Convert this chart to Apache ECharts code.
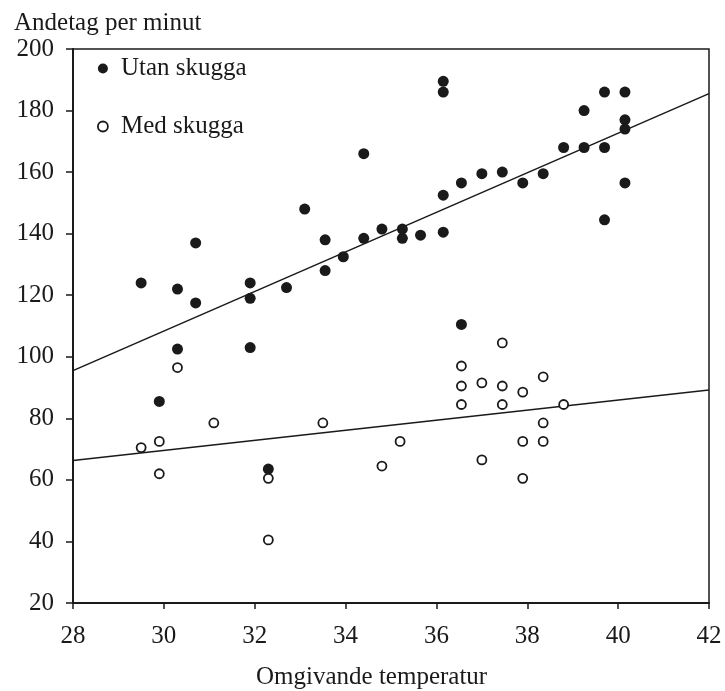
<!DOCTYPE html>
<html>
<head>
<meta charset="utf-8">
<script src="https://cdn.jsdelivr.net/npm/echarts@6/dist/echarts.min.js"></script>
<style>
  html, body { margin: 0; padding: 0; background: #fff; }
  #chart { width: 725px; height: 691px; }
</style>
</head>
<body>
<div id="chart"></div>
<script>
// Breathing rate (breaths per minute) against ambient temperature
const utanTemp = [29.5, 29.9, 30.3, 30.3, 30.7, 30.7, 31.9, 31.9, 31.9, 32.3, 32.7, 33.1, 33.55, 33.55, 33.95,
  34.4, 34.4, 34.8, 35.25, 35.25, 35.65, 36.15, 36.15, 36.15, 36.15, 36.55, 36.55, 37.0, 37.45, 37.9,
  38.35, 38.8, 39.25, 39.25, 39.7, 39.7, 39.7, 40.15, 40.15, 40.15, 40.15];
const utanRate = [124, 85.5, 122, 102.5, 137, 117.5, 124, 119, 103, 63.5, 122.5, 148, 138, 128, 132.5,
  166, 138.5, 141.5, 141.5, 138.5, 139.5, 189.5, 186, 152.5, 140.5, 156.5, 110.5, 159.5, 160, 156.5,
  159.5, 168, 180, 168, 186, 168, 144.5, 186, 177, 174, 156.5];

const medTemp = [29.5, 29.9, 29.9, 30.3, 31.1, 32.3, 32.3, 33.5, 34.8, 35.2, 36.55, 36.55, 36.55, 37.0, 37.0,
  37.45, 37.45, 37.45, 37.9, 37.9, 37.9, 38.35, 38.35, 38.35, 38.8];
const medRate = [70.5, 72.5, 62, 96.5, 78.5, 60.5, 40.5, 78.5, 64.5, 72.5, 97, 90.5, 84.5, 91.5, 66.5,
  104.5, 90.5, 84.5, 88.5, 72.5, 60.5, 93.5, 78.5, 72.5, 84.5];

// Fitted trend lines, end points at the axis limits
const fitTemp = [28, 42];
const utanFit = [95.5, 185.5];
const medFit = [66.3, 89.2];

const xTicks = [28, 30, 32, 34, 36, 38, 40, 42];
const yTicks = [20, 40, 60, 80, 100, 120, 140, 160, 180, 200];

const seriesNames = ['Utan skugga', 'Med skugga'];
const yTitle = 'Andetag per minut';
const xTitle = 'Omgivande temperatur';

const zip = (a, b) => a.map((v, i) => [v, b[i]]);
const font = 'Liberation Serif';
const ink = '#1a1a1a';

const chart = echarts.init(document.getElementById('chart'), null, { renderer: 'canvas' });
chart.setOption({
  backgroundColor: '#fff',
  animation: false,
  textStyle: { fontFamily: font, color: ink },
  title: {
    text: yTitle,
    left: 9, top: 6,
    textStyle: { fontFamily: font, fontSize: 25, fontWeight: 'normal', color: ink }
  },
  graphic: [{
    type: 'text',
    left: 256, top: 665,
    style: { text: xTitle, font: '25px "Liberation Serif"', fill: ink }
  }],
  grid: {
    left: 73, right: 16, top: 49, bottom: 88,
    show: true, borderColor: ink, borderWidth: 1.5, backgroundColor: 'transparent'
  },
  legend: {
    orient: 'vertical',
    left: 92, top: 51,
    itemGap: 33,
    itemWidth: 10, itemHeight: 10,
    textStyle: { fontFamily: font, fontSize: 25, color: ink, padding: [0, 0, 0, 8] },
    data: [
      { name: seriesNames[0], icon: 'circle', itemStyle: { color: ink, borderWidth: 0 } },
      { name: seriesNames[1], icon: 'circle', itemStyle: { color: '#fff', borderColor: ink, borderWidth: 1.8 } }
    ]
  },
  xAxis: {
    type: 'value',
    min: xTicks[0], max: xTicks[xTicks.length - 1], interval: 2,
    axisLine: { onZero: false, lineStyle: { color: ink, width: 2 } },
    axisTick: { inside: false, length: 6, lineStyle: { color: ink, width: 1.5 } },
    axisLabel: { fontFamily: font, fontSize: 25, color: ink, margin: 21 },
    splitLine: { show: false }
  },
  yAxis: {
    type: 'value',
    min: yTicks[0], max: yTicks[yTicks.length - 1], interval: 20,
    axisLine: { onZero: false, show: true, lineStyle: { color: ink, width: 2 } },
    axisTick: { show: true, inside: false, length: 7, lineStyle: { color: ink, width: 1.5 } },
    axisLabel: { fontFamily: font, fontSize: 25, color: ink, margin: 19 },
    splitLine: { show: false }
  },
  series: [
    {
      name: seriesNames[0],
      type: 'scatter',
      symbol: 'circle',
      symbolSize: 11,
      itemStyle: { color: ink, opacity: 1 },
      data: zip(utanTemp, utanRate),
      z: 3
    },
    {
      name: seriesNames[1],
      type: 'scatter',
      symbol: 'circle',
      symbolSize: 9,
      itemStyle: { color: '#fff', borderColor: ink, borderWidth: 1.8, opacity: 1 },
      data: zip(medTemp, medRate),
      z: 3
    },
    {
      name: 'utanFit',
      type: 'line',
      showSymbol: false,
      symbol: 'none',
      silent: true,
      lineStyle: { color: ink, width: 1.6 },
      data: zip(fitTemp, utanFit),
      z: 2
    },
    {
      name: 'medFit',
      type: 'line',
      showSymbol: false,
      symbol: 'none',
      silent: true,
      lineStyle: { color: ink, width: 1.6 },
      data: zip(fitTemp, medFit),
      z: 2
    }
  ]
});
</script>
</body>
</html>
